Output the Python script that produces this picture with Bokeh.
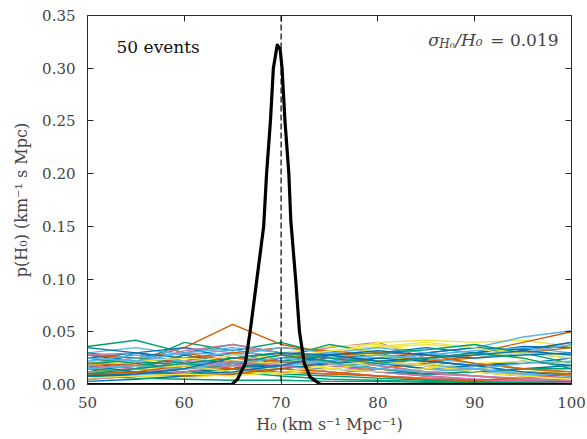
from bokeh.plotting import figure
from bokeh.models import (LinearAxis, Label, Span, Range1d, FixedTicker,
                          NumeralTickFormatter, CustomLabelingPolicy)
from bokeh.embed import file_html
from bokeh.resources import INLINE

# ---------------- data ----------------
h0_grid = [50, 55, 60, 65, 70, 75, 80, 85, 90, 95, 100]

ev01 = [0.028, 0.022, 0.018, 0.025, 0.030, 0.026, 0.020, 0.024, 0.030, 0.034, 0.036]
ev02 = [0.036, 0.042, 0.030, 0.038, 0.030, 0.020, 0.012, 0.008, 0.004, 0.002, 0.001]
ev03 = [0.018, 0.022, 0.035, 0.057, 0.038, 0.030, 0.022, 0.018, 0.012, 0.008, 0.006]
ev04 = [0.020, 0.025, 0.035, 0.030, 0.028, 0.035, 0.040, 0.025, 0.015, 0.010, 0.006]
ev05 = [0.008, 0.010, 0.012, 0.015, 0.020, 0.030, 0.040, 0.042, 0.040, 0.042, 0.036]
ev06 = [0.010, 0.012, 0.015, 0.018, 0.020, 0.022, 0.025, 0.030, 0.035, 0.045, 0.051]
ev07 = [0.015, 0.030, 0.020, 0.015, 0.025, 0.030, 0.028, 0.022, 0.018, 0.020, 0.025]
ev08 = [0.012, 0.020, 0.040, 0.032, 0.040, 0.028, 0.018, 0.012, 0.008, 0.005, 0.003]
ev09 = [0.005, 0.008, 0.012, 0.015, 0.018, 0.020, 0.022, 0.025, 0.030, 0.040, 0.050]
ev10 = [0.025, 0.018, 0.022, 0.030, 0.020, 0.012, 0.008, 0.005, 0.003, 0.002, 0.001]
ev11 = [0.012, 0.008, 0.010, 0.018, 0.030, 0.036, 0.038, 0.030, 0.020, 0.015, 0.010]
ev12 = [0.030, 0.035, 0.028, 0.033, 0.025, 0.020, 0.018, 0.030, 0.035, 0.030, 0.025]
ev13 = [0.020, 0.015, 0.028, 0.020, 0.015, 0.022, 0.030, 0.035, 0.030, 0.036, 0.035]
ev14 = [0.005, 0.010, 0.015, 0.020, 0.025, 0.038, 0.030, 0.020, 0.015, 0.012, 0.010]
ev15 = [0.015, 0.018, 0.025, 0.030, 0.035, 0.032, 0.028, 0.022, 0.025, 0.032, 0.040]
ev16 = [0.010, 0.015, 0.012, 0.020, 0.028, 0.022, 0.015, 0.010, 0.008, 0.005, 0.004]
ev17 = [0.022, 0.018, 0.015, 0.012, 0.015, 0.025, 0.035, 0.038, 0.035, 0.030, 0.028]
ev18 = [0.008, 0.012, 0.018, 0.025, 0.030, 0.028, 0.020, 0.015, 0.012, 0.010, 0.008]
ev19 = [0.025, 0.030, 0.035, 0.025, 0.022, 0.018, 0.025, 0.030, 0.035, 0.033, 0.040]
ev20 = [0.030, 0.025, 0.020, 0.015, 0.010, 0.008, 0.006, 0.004, 0.003, 0.002, 0.002]
ev21 = [0.028, 0.025, 0.030, 0.022, 0.020, 0.025, 0.022, 0.018, 0.015, 0.012, 0.010]
ev22 = [0.015, 0.020, 0.032, 0.038, 0.030, 0.020, 0.012, 0.008, 0.005, 0.003, 0.002]
ev23 = [0.005, 0.008, 0.006, 0.010, 0.018, 0.030, 0.028, 0.020, 0.015, 0.012, 0.008]
ev24 = [0.018, 0.025, 0.030, 0.028, 0.035, 0.030, 0.025, 0.028, 0.032, 0.035, 0.030]
ev25 = [0.010, 0.008, 0.012, 0.015, 0.020, 0.025, 0.020, 0.015, 0.018, 0.022, 0.018]
ev26 = [0.020, 0.022, 0.018, 0.012, 0.008, 0.005, 0.004, 0.003, 0.002, 0.001, 0.001]
ev27 = [0.012, 0.015, 0.020, 0.025, 0.022, 0.018, 0.015, 0.020, 0.028, 0.030, 0.035]
ev28 = [0.028, 0.030, 0.025, 0.018, 0.012, 0.010, 0.015, 0.012, 0.008, 0.004, 0.002]
ev29 = [0.015, 0.012, 0.020, 0.028, 0.025, 0.032, 0.036, 0.040, 0.035, 0.025, 0.015]
ev30 = [0.022, 0.028, 0.022, 0.018, 0.022, 0.030, 0.035, 0.030, 0.025, 0.030, 0.038]
ev31 = [0.035, 0.030, 0.025, 0.020, 0.018, 0.015, 0.012, 0.010, 0.012, 0.015, 0.018]
ev32 = [0.015, 0.012, 0.010, 0.015, 0.022, 0.028, 0.030, 0.033, 0.038, 0.030, 0.020]
ev33 = [0.008, 0.012, 0.018, 0.015, 0.012, 0.010, 0.008, 0.006, 0.004, 0.003, 0.002]
ev34 = [0.005, 0.008, 0.012, 0.018, 0.022, 0.018, 0.012, 0.008, 0.005, 0.003, 0.002]
ev35 = [0.018, 0.022, 0.025, 0.022, 0.020, 0.015, 0.012, 0.015, 0.020, 0.022, 0.020]
ev36 = [0.012, 0.010, 0.008, 0.012, 0.018, 0.022, 0.028, 0.025, 0.020, 0.015, 0.012]
ev37 = [0.003, 0.005, 0.008, 0.010, 0.015, 0.020, 0.025, 0.022, 0.018, 0.012, 0.008]
ev38 = [0.025, 0.020, 0.015, 0.020, 0.028, 0.022, 0.015, 0.010, 0.012, 0.015, 0.015]
ev39 = [0.020, 0.018, 0.015, 0.020, 0.025, 0.028, 0.030, 0.028, 0.020, 0.015, 0.012]
ev40 = [0.012, 0.010, 0.015, 0.022, 0.018, 0.012, 0.008, 0.006, 0.004, 0.003, 0.002]
ev41 = [0.010, 0.015, 0.018, 0.012, 0.010, 0.015, 0.020, 0.025, 0.028, 0.030, 0.025]
ev42 = [0.025, 0.022, 0.030, 0.035, 0.030, 0.025, 0.020, 0.018, 0.015, 0.010, 0.008]
ev43 = [0.018, 0.012, 0.010, 0.012, 0.018, 0.028, 0.032, 0.028, 0.025, 0.028, 0.030]
ev44 = [0.008, 0.006, 0.005, 0.004, 0.004, 0.003, 0.003, 0.002, 0.002, 0.002, 0.003]
ev45 = [0.010, 0.012, 0.008, 0.010, 0.015, 0.012, 0.008, 0.005, 0.004, 0.006, 0.010]
ev46 = [0.018, 0.015, 0.020, 0.025, 0.030, 0.025, 0.018, 0.012, 0.008, 0.006, 0.004]
ev47 = [0.006, 0.008, 0.010, 0.008, 0.012, 0.018, 0.022, 0.018, 0.012, 0.008, 0.005]
ev48 = [0.015, 0.018, 0.015, 0.020, 0.025, 0.020, 0.015, 0.012, 0.015, 0.020, 0.022]
ev49 = [0.008, 0.010, 0.015, 0.025, 0.030, 0.028, 0.022, 0.025, 0.028, 0.032, 0.028]
ev50 = [0.010, 0.015, 0.020, 0.025, 0.030, 0.025, 0.020, 0.025, 0.030, 0.025, 0.015]

events = [ev01, ev02, ev03, ev04, ev05, ev06, ev07, ev08, ev09, ev10,
          ev11, ev12, ev13, ev14, ev15, ev16, ev17, ev18, ev19, ev20,
          ev21, ev22, ev23, ev24, ev25, ev26, ev27, ev28, ev29, ev30,
          ev31, ev32, ev33, ev34, ev35, ev36, ev37, ev38, ev39, ev40,
          ev41, ev42, ev43, ev44, ev45, ev46, ev47, ev48, ev49, ev50]

combined_h0 = [50, 64.9, 65.5, 66.3, 66.8, 67.5, 68.2, 68.5, 68.9, 69.2, 69.6, 69.9,
               70.1, 70.4, 70.8, 71.0, 71.5, 71.9, 72.4, 73.0, 74.1, 100]
combined_p = [0.0, 0.0, 0.005, 0.02, 0.05, 0.10, 0.15, 0.20, 0.25, 0.30, 0.322, 0.318,
              0.30, 0.25, 0.20, 0.156, 0.10, 0.05, 0.02, 0.007, 0.0, 0.0]

true_h0 = 70
x_ticks = [50, 60, 70, 80, 90, 100]
y_ticks = [0.0, 0.05, 0.10, 0.15, 0.20, 0.25, 0.30, 0.35]
palette = ["#0072B2", "#009E73", "#D55E00", "#CC79A7", "#F0E442", "#56B4E9"]

# ---------------- figure ----------------
FONT = "DejaVu Serif"
TXT = "#444444"
FRAME = "#2a2a2a"

p = figure(frame_width=484, frame_height=369,
           min_border_left=87, min_border_right=14, min_border_top=15, min_border_bottom=54,
           x_range=Range1d(50, 100), y_range=Range1d(0, 0.35),
           output_backend="svg", toolbar_location=None)
p.xgrid.visible = False
p.ygrid.visible = False
p.outline_line_color = FRAME
p.outline_line_width = 1
p.background_fill_color = "white"
p.border_fill_color = "white"

for i, ev in enumerate(events):
    p.line(h0_grid, ev, line_color=palette[i % len(palette)], line_width=1.4)

p.add_layout(Span(location=true_h0, dimension="height", line_color="black",
                  line_width=1.2, line_dash="6 3"))
p.line(combined_h0, combined_p, line_color="black", line_width=3.2, line_join="round")

xa = p.xaxis[0]
ya = p.yaxis[0]
xa.ticker = FixedTicker(ticks=x_ticks)
ya.ticker = FixedTicker(ticks=y_ticks)
ya.formatter = NumeralTickFormatter(format="0.00")
for ax in (xa, ya):
    ax.major_tick_in = 6
    ax.major_tick_out = 0
    ax.minor_tick_in = 0
    ax.minor_tick_out = 0
    ax.major_tick_line_color = FRAME
    ax.axis_line_color = FRAME
    ax.major_label_text_font = FONT
    ax.major_label_text_font_size = "15px"
    ax.major_label_text_color = TXT
    ax.axis_label_text_font = FONT
    ax.axis_label_text_font_size = "16px"
    ax.axis_label_text_font_style = "normal"
    ax.axis_label_text_color = TXT
xa.major_label_standoff = 12
ya.major_label_standoff = 12
xa.axis_label = "H₀ (km s⁻¹ Mpc⁻¹)"
ya.axis_label = "p(H₀) (km⁻¹ s Mpc)"
xa.axis_label_standoff = 4
ya.axis_label_standoff = 8

no_labels = CustomLabelingPolicy(code="""
    const all = [...indices]
    for (const i of all) indices.unset(i)
    return indices
""")
top = LinearAxis(ticker=FixedTicker(ticks=x_ticks), major_label_policy=no_labels)
right = LinearAxis(ticker=FixedTicker(ticks=y_ticks), major_label_policy=no_labels)
for ax in (top, right):
    ax.major_tick_in = 6
    ax.major_tick_out = 0
    ax.minor_tick_in = 0
    ax.minor_tick_out = 0
    ax.major_tick_line_color = FRAME
    ax.axis_line_color = None
    ax.major_label_standoff = 0
p.add_layout(top, "above")
p.add_layout(right, "right")

# annotations
p.add_layout(Label(x=53.0, y=0.3197, text="50 events", text_font=FONT,
                   text_font_size="17px", text_color="#111111", text_baseline="alphabetic"))

sx, sy = 85.2, 0.3264
p.add_layout(Label(x=sx, y=sy, text="σ", text_font=FONT, text_font_style="italic",
                   text_font_size="17px", text_color=TXT, text_baseline="alphabetic"))
p.add_layout(Label(x=sx, y=sy, x_offset=11, y_offset=-4, text="H₀", text_font=FONT,
                   text_font_style="italic", text_font_size="12px", text_color=TXT,
                   text_baseline="alphabetic"))
p.add_layout(Label(x=sx, y=sy, x_offset=27, text="/H₀", text_font=FONT,
                   text_font_style="italic", text_font_size="17px", text_color=TXT,
                   text_baseline="alphabetic"))
p.add_layout(Label(x=sx, y=sy, x_offset=62, text="= 0.019", text_font=FONT,
                   text_font_size="17px", text_color=TXT, text_baseline="alphabetic"))

open("out.html", "w").write(file_html(p, INLINE))
